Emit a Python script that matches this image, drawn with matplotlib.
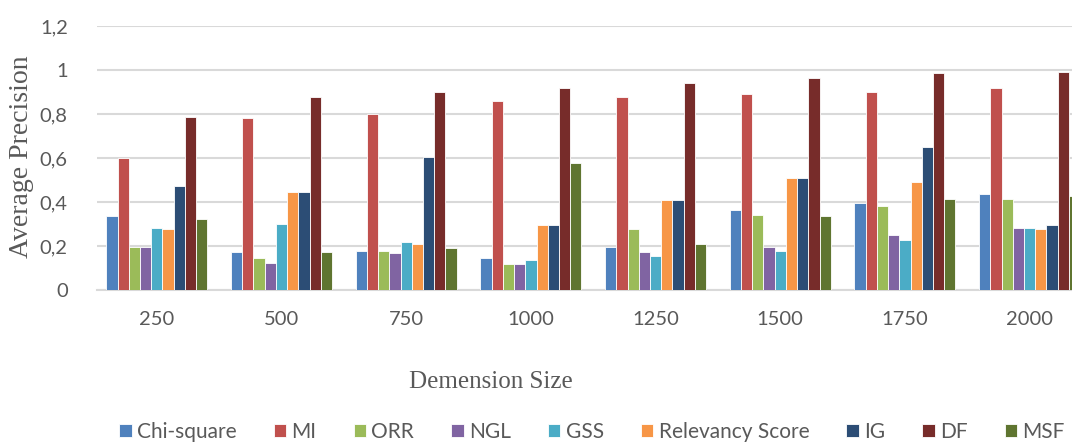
import numpy as np
import matplotlib.pyplot as plt
from matplotlib.ticker import FuncFormatter

# データ
sizes = ['250', '500', '750', '1000', '1250', '1500', '1750', '2000']
methods = ['Chi-square', 'MI', 'ORR', 'NGL', 'GSS', 'Relevancy Score', 'IG', 'DF', 'MSF']

chi_square = [0.336, 0.171, 0.177, 0.144, 0.197, 0.362, 0.395, 0.435]
mi = [0.598, 0.780, 0.800, 0.859, 0.879, 0.892, 0.898, 0.918]
orr = [0.197, 0.144, 0.177, 0.118, 0.277, 0.342, 0.382, 0.415]
ngl = [0.197, 0.124, 0.170, 0.118, 0.171, 0.197, 0.248, 0.283]
gss = [0.283, 0.298, 0.217, 0.136, 0.156, 0.177, 0.229, 0.283]
relevancy = [0.277, 0.447, 0.209, 0.297, 0.408, 0.508, 0.492, 0.277]
ig = [0.474, 0.447, 0.606, 0.297, 0.408, 0.508, 0.652, 0.297]
df_vals = [0.788, 0.879, 0.898, 0.917, 0.939, 0.965, 0.985, 0.991]
msf = [0.323, 0.171, 0.189, 0.577, 0.209, 0.336, 0.415, 0.429]

series = [chi_square, mi, orr, ngl, gss, relevancy, ig, df_vals, msf]
colors = ['#4F81BD', '#C0504D', '#9BBB59', '#8064A2', '#4BACC6',
          '#F79646', '#2C4D75', '#772C2A', '#5F7530']

# 描画
fig = plt.figure(figsize=(10.72, 4.42), dpi=100)
ax = fig.add_axes([97 / 1072, 152 / 442, 1 - 97 / 1072, 264 / 442])

x = np.arange(len(sizes))
slot = 0.09
for i, (vals, c) in enumerate(zip(series, colors)):
    ax.bar(x + (i - 4) * slot, vals, width=slot, color=c,
           edgecolor='white', linewidth=0.6, label=methods[i], zorder=3)

ax.set_ylim(0, 1.2)
ax.set_yticks(np.arange(0, 1.21, 0.2))
ax.yaxis.set_major_formatter(FuncFormatter(
    lambda v, p: '0' if abs(v) < 1e-9 else ('1' if abs(v - 1) < 1e-9 else f'{v:.1f}'.replace('.', ','))))
ax.set_xlim(-0.48, 7.5 - 20 / 124.7)
ax.set_xticks(x)
ax.set_xticklabels(sizes)

ax.grid(axis='y', color='#D9D9D9', linewidth=1.5, zorder=0)
for s in ['top', 'right', 'left']:
    ax.spines[s].set_visible(False)
ax.spines['bottom'].set_color('#D9D9D9')
ax.spines['bottom'].set_linewidth(1.5)
ax.tick_params(axis='both', length=0, labelsize=14.5, labelcolor='#595959')
ax.tick_params(axis='y', pad=21)
ax.tick_params(axis='x', pad=15)
for lab in ax.get_xticklabels() + ax.get_yticklabels():
    lab.set_family('Lato')

fig.text(22 / 1072, 1 - 157 / 442, 'Average Precision', family='Liberation Serif',
         fontsize=20, color='#595959', ha='center', va='center', rotation=90)
fig.text(491 / 1072, 1 - 382 / 442, 'Demension Size', family='Liberation Serif',
         fontsize=18, color='#595959', ha='center', va='center')

fig.legend(loc='center', bbox_to_anchor=(592 / 1072, 1 - 432 / 442), ncol=9,
           frameon=False, prop={'family': 'Lato', 'size': 15},
           handlelength=0.6, handleheight=0.6, handletextpad=0.25,
           columnspacing=1.78, labelcolor='#595959')

fig.savefig('out.png', dpi=100)
